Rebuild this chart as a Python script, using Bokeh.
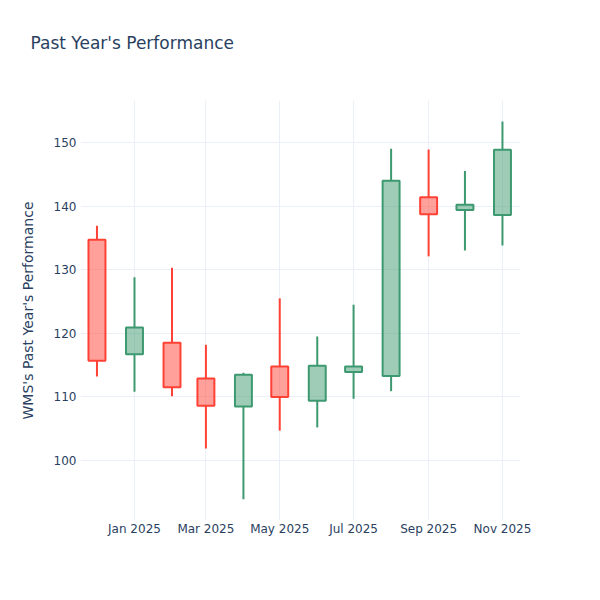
import pandas as pd
from bokeh.plotting import figure
from bokeh.models import ColumnDataSource, FixedTicker, DatetimeTickFormatter, Range1d, Title
from bokeh.embed import file_html
from bokeh.resources import INLINE

# Monthly candles, Dec 2024 .. Nov 2025
months = ["2024-12-01", "2025-01-01", "2025-02-01", "2025-03-01", "2025-04-01", "2025-05-01",
          "2025-06-01", "2025-07-01", "2025-08-01", "2025-09-01", "2025-10-01", "2025-11-01"]
opens  = [134.7, 116.7, 118.5, 112.9, 108.5, 114.8, 109.4, 113.9, 113.3, 141.4, 139.4, 138.6]
closes = [115.7, 120.9, 111.5, 108.6, 113.5, 110.0, 114.9, 114.8, 144.0, 138.7, 140.2, 148.85]
highs  = [136.9, 128.8, 130.3, 118.2, 113.8, 125.5, 119.5, 124.5, 149.0, 148.9, 145.5, 153.3]
lows   = [113.2, 110.8, 110.1, 101.9, 93.9, 104.7, 105.2, 109.7, 110.9, 132.1, 133.0, 133.8]
x_ticks = ["2025-01-01", "2025-03-01", "2025-05-01", "2025-07-01", "2025-09-01", "2025-11-01"]
y_ticks = [100, 110, 120, 130, 140, 150]

INC = "#3D9970"
DEC = "#FF4136"
FONT = "DejaVu Sans"
TXT = "#2a3f5f"
GRID = "#EBF0F8"

df = pd.DataFrame({"date": pd.to_datetime(months), "open": opens, "close": closes,
                   "high": highs, "low": lows})
df["top"] = df[["open", "close"]].max(axis=1)
df["bottom"] = df[["open", "close"]].min(axis=1)
df["color"] = [INC if c >= o else DEC for o, c in zip(df["open"], df["close"])]
src = ColumnDataSource(df)

day = 24 * 3600 * 1000
x0 = pd.Timestamp("2025-01-01") - pd.Timedelta(days=44.6)
x1 = pd.Timestamp("2025-01-01") + pd.Timedelta(days=318.9)

p = figure(width=584, height=584, x_axis_type="datetime", output_backend="svg",
           toolbar_location=None, x_range=Range1d(x0, x1), y_range=Range1d(90.57, 156.6),
           min_border_left=80, min_border_right=64, min_border_top=100, min_border_bottom=64)
p.outline_line_color = None
p.background_fill_color = "white"
p.border_fill_color = "white"

t = Title(text="Past Year's Performance", align="left", offset=-50, standoff=10,
          text_font=FONT, text_font_size="17px", text_font_style="normal", text_color=TXT)
p.title = t
# empty spacer between the title and the plot area
spacer = Title(text=" ", text_font_size="1px", standoff=40, text_color="white")
p.add_layout(spacer, "above")

p.segment(x0="date", y0="top", x1="date", y1="high", source=src, line_color="color", line_width=2)
p.segment(x0="date", y0="bottom", x1="date", y1="low", source=src, line_color="color", line_width=2)
p.vbar(x="date", width=14 * day, top="top", bottom="bottom", source=src,
       fill_color="color", fill_alpha=0.5, line_color="color", line_width=2)

p.xaxis.ticker = FixedTicker(ticks=[pd.Timestamp(d).value // 10**6 for d in x_ticks])
fmt = "%b %Y"
p.xaxis.formatter = DatetimeTickFormatter(days=fmt, months=fmt, years=fmt, hours=fmt, minutes=fmt)
p.yaxis.ticker = FixedTicker(ticks=y_ticks)
p.yaxis.axis_label = "WMS's Past Year's Performance"

for ax in [p.xaxis[0], p.yaxis[0]]:
    ax.axis_line_color = None
    ax.major_tick_line_color = None
    ax.minor_tick_line_color = None
    ax.major_tick_in = 0
    ax.major_tick_out = 0
    ax.major_label_text_font = FONT
    ax.major_label_text_font_size = "12px"
    ax.major_label_text_color = TXT
    ax.axis_label_text_font = FONT
    ax.axis_label_text_font_size = "14px"
    ax.axis_label_text_font_style = "normal"
    ax.axis_label_text_color = TXT
p.xaxis.major_label_standoff = 1
p.yaxis.major_label_standoff = 4
p.yaxis.axis_label_standoff = 15

p.xgrid.grid_line_color = GRID
p.ygrid.grid_line_color = GRID
p.xgrid.grid_line_width = 1
p.ygrid.grid_line_width = 1

open("out.html", "w").write(file_html(p, INLINE))
